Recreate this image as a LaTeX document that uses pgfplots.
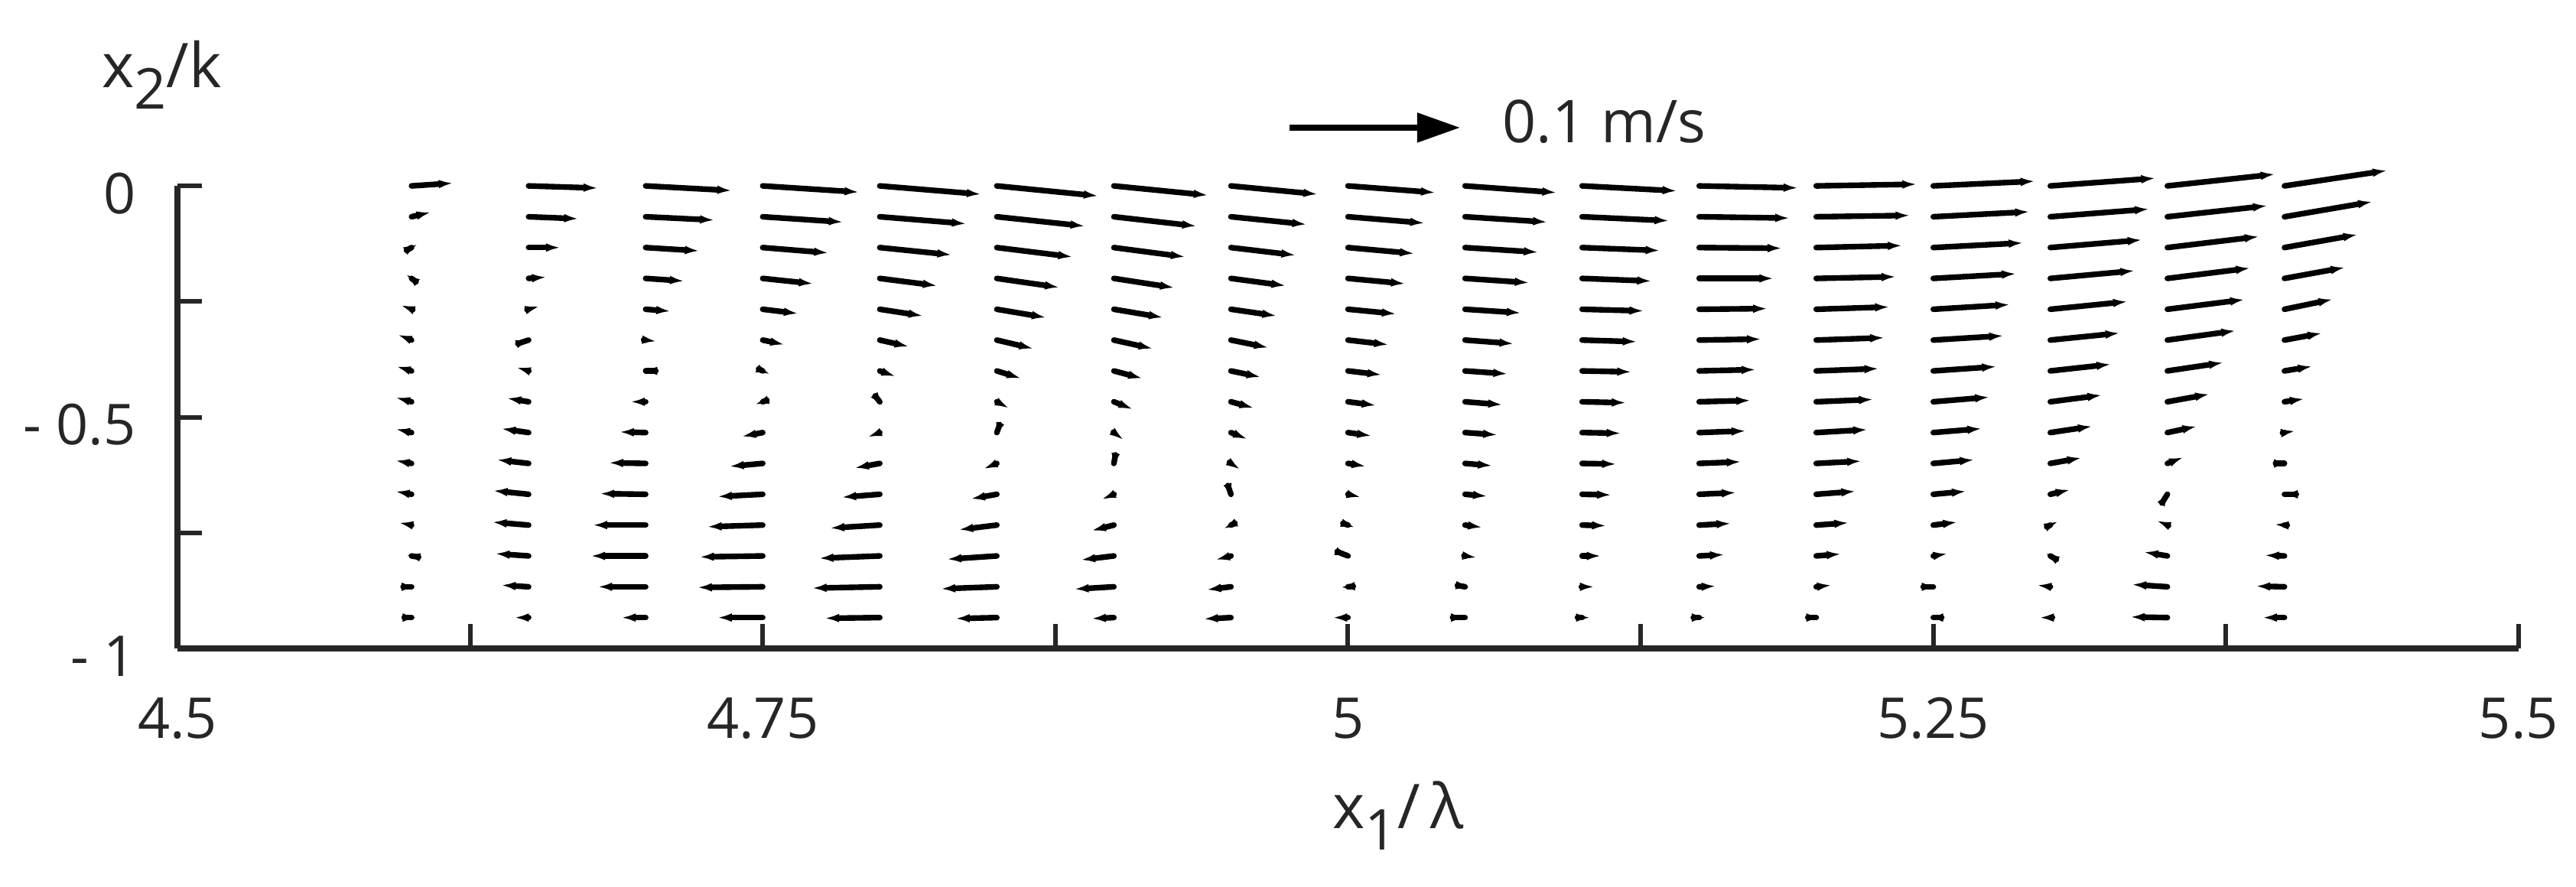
\documentclass[border=0pt]{standalone}
\usepackage{fontspec}
\setmainfont{Open Sans}
\usepackage{pgfplots}
\usepackage{pgfplotstable}
\pgfplotsset{compat=1.18}
\usetikzlibrary{arrows.meta}
\definecolor{axgray}{rgb}{0.15,0.15,0.15}

% velocity field: x1/lambda, x2/k, u and v in m/s
\pgfplotstableread{
x y u v
4.60 0 0.0247 0.0084
4.60 -0.0667 0.0117 0.014
4.60 -0.1333 0.0040 0.011
4.60 -0.2 -0.0037 0.014
4.60 -0.2667 -0.0067 0.013
4.60 -0.3333 -0.0085 0.0167
4.60 -0.4 -0.0093 0.014
4.60 -0.4667 -0.0097 0.013
4.60 -0.5333 -0.0097 0.011
4.60 -0.6 -0.0099 0.009
4.60 -0.6667 -0.0099 0.009
4.60 -0.7333 -0.0078 0.0074
4.60 -0.8 -0.0037 0.003
4.60 -0.8667 0.0030 0.000
4.60 -0.9333 0.0036 0.000
4.65 0 0.041 -0.0065
4.65 -0.0667 0.0296 -0.006
4.65 -0.1333 0.019 0.000
4.65 -0.2 0.0108 0.004
4.65 -0.2667 0.0067 0.009
4.65 -0.3333 0.0012 0.002
4.65 -0.4 -0.0075 0.011
4.65 -0.4667 -0.0132 0.011
4.65 -0.5333 -0.0164 0.012
4.65 -0.6 -0.019 0.011
4.65 -0.6667 -0.0212 0.011
4.65 -0.7333 -0.0217 0.009
4.65 -0.8 -0.020 0.007
4.65 -0.8667 -0.0164 0.005
4.65 -0.9333 -0.0087 0.000
4.70 0 0.0508 -0.014
4.70 -0.0667 0.0407 -0.010
4.70 -0.1333 0.0318 -0.010
4.70 -0.2 0.023 -0.008
4.70 -0.2667 0.015 -0.006
4.70 -0.3333 0.0067 -0.004
4.70 -0.4 -0.002 0.000
4.70 -0.4667 -0.0093 0.000
4.70 -0.5333 -0.0157 0.002
4.70 -0.6 -0.022 0.002
4.70 -0.6667 -0.0272 0.002
4.70 -0.7333 -0.0314 0.000
4.70 -0.8 -0.0326 0.000
4.70 -0.8667 -0.0284 0.000
4.70 -0.9333 -0.0146 0.000
4.75 0 0.0568 -0.0186
4.75 -0.0667 0.0475 -0.016
4.75 -0.1333 0.0389 -0.016
4.75 -0.2 0.030 -0.016
4.75 -0.2667 0.0212 -0.013
4.75 -0.3333 0.0132 -0.014
4.75 -0.4 0.0048 -0.011
4.75 -0.4667 -0.005 -0.009
4.75 -0.5333 -0.0127 -0.012
4.75 -0.6 -0.0199 -0.009
4.75 -0.6667 -0.0269 -0.007
4.75 -0.7333 -0.0329 -0.005
4.75 -0.8 -0.0374 -0.003
4.75 -0.8667 -0.0386 -0.002
4.75 -0.9333 -0.0269 0.000
4.80 0 0.0598 -0.025
4.80 -0.0667 0.0511 -0.021
4.80 -0.1333 0.0426 -0.022
4.80 -0.2 0.0341 -0.022
4.80 -0.2667 0.0257 -0.020
4.80 -0.3333 0.0175 -0.020
4.80 -0.4 0.0097 -0.017
4.80 -0.4667 0.0022 -0.014
4.80 -0.5333 -0.0075 -0.014
4.80 -0.6 -0.0152 -0.014
4.80 -0.6667 -0.0227 -0.009
4.80 -0.7333 -0.0296 -0.009
4.80 -0.8 -0.036 -0.007
4.80 -0.8667 -0.040 -0.004
4.80 -0.9333 -0.0326 -0.002
4.85 0 0.0598 -0.030
4.85 -0.0667 0.052 -0.028
4.85 -0.1333 0.0448 -0.028
4.85 -0.2 0.037 -0.027
4.85 -0.2667 0.0293 -0.025
4.85 -0.3333 0.0218 -0.026
4.85 -0.4 0.0146 -0.023
4.85 -0.4667 0.0075 -0.020
4.85 -0.5333 -0.001 -0.014
4.85 -0.6 -0.0082 -0.017
4.85 -0.6667 -0.0157 -0.014
4.85 -0.7333 -0.0227 -0.014
4.85 -0.8 -0.0296 -0.010
4.85 -0.8667 -0.0332 -0.006
4.85 -0.9333 -0.0247 -0.003
4.90 0 0.0556 -0.028
4.90 -0.0667 0.0489 -0.028
4.90 -0.1333 0.0422 -0.028
4.90 -0.2 0.0359 -0.028
4.90 -0.2667 0.0293 -0.025
4.90 -0.3333 0.0232 -0.026
4.90 -0.4 0.0172 -0.023
4.90 -0.4667 0.0115 -0.023
4.90 -0.5333 0.006 -0.023
4.90 -0.6 -0.0005 -0.014
4.90 -0.6667 -0.0075 -0.016
4.90 -0.7333 -0.0135 -0.017
4.90 -0.8 -0.0197 -0.012
4.90 -0.8667 -0.0236 -0.007
4.90 -0.9333 -0.0135 -0.003
4.95 0 0.0513 -0.025
4.95 -0.0667 0.0448 -0.023
4.95 -0.1333 0.0384 -0.023
4.95 -0.2 0.0326 -0.022
4.95 -0.2667 0.0272 -0.020
4.95 -0.3333 0.0224 -0.023
4.95 -0.4 0.0179 -0.019
4.95 -0.4667 0.0138 -0.019
4.95 -0.5333 0.010 -0.020
4.95 -0.6 0.0057 -0.019
4.95 -0.6667 0.0008 -0.012
4.95 -0.7333 -0.0048 -0.012
4.95 -0.8 -0.0094 -0.012
4.95 -0.8667 -0.0146 -0.009
4.95 -0.9333 -0.0164 -0.004
5.00 0 0.0516 -0.020
5.00 -0.0667 0.0453 -0.019
5.00 -0.1333 0.0393 -0.018
5.00 -0.2 0.034 -0.016
5.00 -0.2667 0.0287 -0.014
5.00 -0.3333 0.0242 -0.014
5.00 -0.4 0.0202 -0.012
5.00 -0.4667 0.0169 -0.011
5.00 -0.5333 0.0142 -0.010
5.00 -0.6 0.0109 -0.009
5.00 -0.6667 0.0079 -0.009
5.00 -0.7333 0.0045 -0.008
5.00 -0.8 0.0010 -0.002
5.00 -0.8667 -0.0048 -0.002
5.00 -0.9333 -0.0093 0.000
5.05 0 0.0541 -0.020
5.05 -0.0667 0.0486 -0.016
5.05 -0.1333 0.0433 -0.014
5.05 -0.2 0.038 -0.013
5.05 -0.2667 0.0332 -0.011
5.05 -0.3333 0.029 -0.011
5.05 -0.4 0.0254 -0.009
5.05 -0.4667 0.0224 -0.009
5.05 -0.5333 0.0194 -0.007
5.05 -0.6 0.0164 -0.007
5.05 -0.6667 0.0135 -0.006
5.05 -0.7333 0.0105 -0.007
5.05 -0.8 0.0072 -0.005
5.05 -0.8667 0.0033 -0.003
5.05 -0.9333 0.0006 0.000
5.10 0 0.056 -0.015
5.10 -0.0667 0.0513 -0.012
5.10 -0.1333 0.046 -0.009
5.10 -0.2 0.0411 -0.008
5.10 -0.2667 0.0366 -0.005
5.10 -0.3333 0.0326 -0.005
5.10 -0.4 0.0294 -0.003
5.10 -0.4667 0.0262 -0.003
5.10 -0.5333 0.0232 -0.002
5.10 -0.6 0.0205 -0.002
5.10 -0.6667 0.0176 -0.002
5.10 -0.7333 0.0146 -0.002
5.10 -0.8 0.0115 0.000
5.10 -0.8667 0.0075 0.000
5.10 -0.9333 0.0052 0.000
5.15 0 0.0583 -0.006
5.15 -0.0667 0.0534 -0.004
5.15 -0.1333 0.0489 -0.002
5.15 -0.2 0.0441 0.000
5.15 -0.2667 0.0404 0.002
5.15 -0.3333 0.0368 0.003
5.15 -0.4 0.0336 0.004
5.15 -0.4667 0.0306 0.004
5.15 -0.5333 0.0278 0.005
5.15 -0.6 0.025 0.005
5.15 -0.6667 0.0221 0.005
5.15 -0.7333 0.019 0.005
5.15 -0.8 0.0152 0.004
5.15 -0.8667 0.0102 0.002
5.15 -0.9333 0.0045 0.000
5.20 0 0.0593 0.005
5.20 -0.0667 0.0553 0.004
5.20 -0.1333 0.0508 0.006
5.20 -0.2 0.0471 0.005
5.20 -0.2667 0.0433 0.007
5.20 -0.3333 0.0404 0.007
5.20 -0.4 0.0371 0.007
5.20 -0.4667 0.0338 0.007
5.20 -0.5333 0.0305 0.009
5.20 -0.6 0.0269 0.007
5.20 -0.6667 0.0235 0.009
5.20 -0.7333 0.0194 0.007
5.20 -0.8 0.0149 0.006
5.20 -0.8667 0.0093 0.005
5.20 -0.9333 0.003 0.000
5.25 0 0.060 0.014
5.25 -0.0667 0.0568 0.015
5.25 -0.1333 0.053 0.014
5.25 -0.2 0.049 0.014
5.25 -0.2667 0.0453 0.014
5.25 -0.3333 0.0416 0.013
5.25 -0.4 0.0374 0.013
5.25 -0.4667 0.0333 0.014
5.25 -0.5333 0.0288 0.012
5.25 -0.6 0.0244 0.011
5.25 -0.6667 0.0197 0.009
5.25 -0.7333 0.0145 0.009
5.25 -0.8 0.0087 0.007
5.25 -0.8667 0.002 0.000
5.25 -0.9333 -0.003 0.000
5.30 0 0.062 0.023
5.30 -0.0667 0.0583 0.023
5.30 -0.1333 0.0541 0.023
5.30 -0.2 0.0498 0.023
5.30 -0.2667 0.0456 0.023
5.30 -0.3333 0.0411 0.021
5.30 -0.4 0.0359 0.020
5.30 -0.4667 0.0306 0.020
5.30 -0.5333 0.025 0.019
5.30 -0.6 0.0187 0.017
5.30 -0.6667 0.012 0.014
5.30 -0.7333 0.005 0.012
5.30 -0.8 -0.0033 0.010
5.30 -0.8667 -0.0082 0.005
5.30 -0.9333 -0.0067 0.000
5.35 0 0.0635 0.035
5.35 -0.0667 0.059 0.033
5.35 -0.1333 0.0541 0.033
5.35 -0.2 0.049 0.031
5.35 -0.2667 0.0456 0.029
5.35 -0.3333 0.0404 0.028
5.35 -0.4 0.0332 0.025
5.35 -0.4667 0.0251 0.023
5.35 -0.5333 0.0176 0.019
5.35 -0.6 0.0097 0.019
5.35 -0.6667 0.001 0.008
5.35 -0.7333 -0.0067 0.014
5.35 -0.8 -0.0142 0.012
5.35 -0.8667 -0.0212 0.007
5.35 -0.9333 -0.0221 0.002
5.40 0 0.0605 0.046
5.40 -0.0667 0.0519 0.045
5.40 -0.1333 0.0433 0.039
5.40 -0.2 0.0359 0.033
5.40 -0.2667 0.0287 0.030
5.40 -0.3333 0.0224 0.021
5.40 -0.4 0.0167 0.014
5.40 -0.4667 0.012 0.009
5.40 -0.5333 0.0067 0.005
5.40 -0.6 0.0027 0.000
5.40 -0.6667 -0.001 0.000
5.40 -0.7333 -0.0063 0.002
5.40 -0.8 -0.012 0.002
5.40 -0.8667 -0.0172 0.002
5.40 -0.9333 -0.0132 0.000
}\velfield

% reference arrow
\pgfplotstableread{
x y u v
4.975 0.126 0.1 0
}\refarrow

\begin{document}
\begin{tikzpicture}
\useasboundingbox (-33.06pt,-44.46pt) rectangle (446.9pt,120.85pt);
\begin{axis}[
  scale only axis,
  width=436.2pt, height=86.2pt,
  xmin=4.5, xmax=5.5, ymin=-1, ymax=0,
  axis x line*=bottom, axis y line*=left,
  axis line style={-, line width=1.05pt, draw=axgray},
  tick align=inside,
  major tick length=4.5pt, minor tick length=4.5pt,
  tick style={draw=axgray, line width=0.85pt},
  minor tick style={draw=axgray, line width=0.85pt},
  xtick={4.5,4.75,5,5.25,5.5},
  xticklabels={4.5,4.75,5,5.25,5.5},
  minor xtick={4.625,4.875,5.125,5.375},
  ytick={-1,-0.75,-0.5,-0.25,0},
  yticklabels={- 1,,- 0.5,,0},
  xticklabel style={font=\fontsize{10.5}{12}\selectfont, text=axgray, inner sep=0pt, yshift=-9pt},
  yticklabel style={font=\fontsize{10.5}{12}\selectfont, text=axgray, inner sep=0pt, xshift=-7.6pt, yshift=-1.4pt},
  clip=false,
]
\addplot[black, line width=1.05pt, line cap=round,
  -{Latex[length=2.8pt,width=1.6pt]},
  quiver={u=\thisrow{u}, v=\thisrow{v}, scale arrows=0.729}]
  table[x=x, y=y] {\velfield};

\addplot[black, line width=1.1pt,
  -{Triangle[length=8pt,width=5.3pt]},
  quiver={u=\thisrow{u}, v=\thisrow{v}, scale arrows=0.729}]
  table[x=x, y=y] {\refarrow};

\node[anchor=base west, font=\fontsize{11}{13}\selectfont, text=axgray]
  at (axis cs:5.058,0.094) {0.1 m/s};

\node[anchor=base, font=\fontsize{11.5}{14}\selectfont, text=axgray, yshift=-33.6pt]
  at (axis description cs:0.5214,0) {x\raisebox{-4pt}{\fontsize{10.5}{12}\selectfont 1}/\,λ};
\node[anchor=base, font=\fontsize{11.5}{14}\selectfont, text=axgray, xshift=-2.9pt, yshift=18.3pt]
  at (axis description cs:0,1) {x\raisebox{-4pt}{\fontsize{10.5}{12}\selectfont 2}/k};
\end{axis}
\end{tikzpicture}
\end{document}
